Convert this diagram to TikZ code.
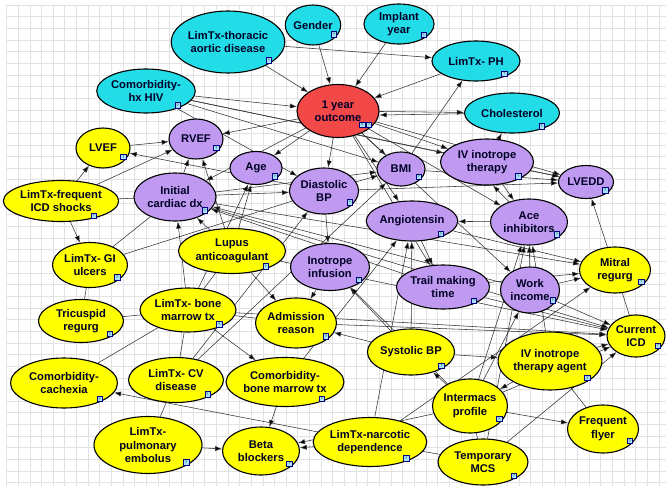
\documentclass[tikz,border=0pt]{standalone}
\usepackage{fontspec}
\setmainfont{Liberation Sans}
\usepackage{xcolor}
\usetikzlibrary{arrows.meta,shapes.geometric}

\definecolor{netcyan}{RGB}{34,220,232}
\definecolor{netred}{RGB}{242,72,72}
\definecolor{netpurple}{RGB}{192,154,240}
\definecolor{netyellow}{RGB}{255,255,0}
\definecolor{gridgray}{RGB}{226,226,226}

\begin{document}
\begin{tikzpicture}[
        x=1pt, y=-1pt,
        font=\fontsize{11.2}{13.5}\selectfont\bfseries,
        >={Latex[length=7pt,width=5pt]},
        % one look for all ellipses, only the fill changes
        bn_node/.style={ellipse, draw=black, line width=1.1pt, inner sep=0pt, align=center, text=black!85!blue},
        cyan_node/.style={bn_node, fill=netcyan},
        red_node/.style={bn_node, fill=netred},
        purple_node/.style={bn_node, fill=netpurple},
        yellow_node/.style={bn_node, fill=netyellow},
        q_icon/.style={draw=blue!50!black, fill=cyan!35, line width=0.4pt, minimum size=5.5pt, inner sep=0pt, font=\fontsize{3.5}{3.5}\selectfont},
        link_arrow/.style={->, draw=black!80, line width=0.55pt},
        link_plain/.style={draw=black!80, line width=0.55pt},
        grid_line/.style={draw=gridgray, line width=0.6pt}
    ]

    \pgfdeclarelayer{background}
    \pgfsetlayers{background,main}

    \useasboundingbox (0,0) rectangle (670,490);

    % --- grid paper ---
    \begin{pgfonlayer}{background}
        \fill[white] (0,0) rectangle (670,490);
        \foreach \gx in {0,...,56} \draw[grid_line] (6.5+\gx*11.65,5) -- (6.5+\gx*11.65,486);
        \foreach \gy in {0,...,41} \draw[grid_line] (6.5,5+\gy*11.65) -- (666,5+\gy*11.65);
    \end{pgfonlayer}

    % --- top row (cyan) ---
    \node[cyan_node, minimum width=102pt, minimum height=62pt] (thor) at (228,42) {LimTx-thoracic\\aortic disease};
    \node[cyan_node, minimum width=52pt, minimum height=40pt] (gender) at (313,25) {Gender};
    \node[cyan_node, minimum width=70pt, minimum height=40pt] (implant) at (399,24) {Implant\\year};
    \node[cyan_node, minimum width=88pt, minimum height=40pt] (ph) at (476,61) {LimTx- PH};
    \node[cyan_node, minimum width=96pt, minimum height=44pt] (hiv) at (146,91) {Comorbidity-\\hx HIV};
    \node[cyan_node, minimum width=95pt, minimum height=40pt] (chol) at (512,113) {Cholesterol};

    % --- target ---
    \node[red_node, minimum width=82pt, minimum height=53pt] (outcome) at (338,111) {1 year\\outcome};

    % --- purple ---
    \node[purple_node, minimum width=54pt, minimum height=40pt] (rvef) at (196,139) {RVEF};
    \node[purple_node, minimum width=52pt, minimum height=33pt] (age) at (256,168) {Age};
    \node[purple_node, minimum width=82pt, minimum height=48pt] (cardx) at (175,197) {Initial\\cardiac dx};
    \node[purple_node, minimum width=69pt, minimum height=46pt] (dbp) at (324,191) {Diastolic\\BP};
    \node[purple_node, minimum width=48pt, minimum height=34pt] (bmi) at (401,169) {BMI};
    \node[purple_node, minimum width=93pt, minimum height=46pt] (ivther) at (487,162) {IV inotrope\\therapy};
    \node[purple_node, minimum width=55pt, minimum height=33pt] (lvedd) at (586,182) {LVEDD};
    \node[purple_node, minimum width=91pt, minimum height=40pt] (angio) at (412,221) {Angiotensin};
    \node[purple_node, minimum width=77pt, minimum height=46pt] (ace) at (529,222) {Ace\\inhibitors};
    \node[purple_node, minimum width=79pt, minimum height=47pt] (infus) at (330,267) {Inotrope\\infusion};
    \node[purple_node, minimum width=93pt, minimum height=44pt] (trail) at (443,287) {Trail making\\time};
    \node[purple_node, minimum width=59pt, minimum height=46pt] (work) at (530,290) {Work\\income};

    % --- yellow ---
    \node[yellow_node, minimum width=54pt, minimum height=40pt] (lvef) at (103,148) {LVEF};
    \node[yellow_node, minimum width=115pt, minimum height=41pt] (icdshock) at (61,201) {LimTx-frequent\\ICD shocks};
    \node[yellow_node, minimum width=75pt, minimum height=45pt] (giulc) at (90,265) {LimTx- GI\\ulcers};
    \node[yellow_node, minimum width=107pt, minimum height=45pt] (lupus) at (232,251) {Lupus\\anticoagulant};
    \node[yellow_node, minimum width=71pt, minimum height=46pt] (mitral) at (615,270) {Mitral\\regurg};
    \node[yellow_node, minimum width=85pt, minimum height=43pt] (tricus) at (81,321) {Tricuspid\\regurg};
    \node[yellow_node, minimum width=96pt, minimum height=44pt] (bmtx) at (188,310) {LimTx- bone\\marrow tx};
    \node[yellow_node, minimum width=80pt, minimum height=50pt] (admit) at (296,323) {Admission\\reason};
    \node[yellow_node, minimum width=58pt, minimum height=42pt] (curicd) at (636,336) {Current\\ICD};
    \node[yellow_node, minimum width=72pt, minimum height=46pt] (sbp) at (411,352) {Systolic BP};
    \node[yellow_node, minimum width=97pt, minimum height=58pt] (ivagent) at (550,361) {IV inotrope\\therapy agent};
    \node[yellow_node, minimum width=107pt, minimum height=50pt] (cachex) at (64,383) {Comorbidity-\\cachexia};
    \node[yellow_node, minimum width=95pt, minimum height=45pt] (cvdis) at (176,380) {LimTx- CV\\disease};
    \node[yellow_node, minimum width=102pt, minimum height=49pt] (combm) at (285,382) {Comorbidity-\\bone marrow tx};
    \node[yellow_node, minimum width=75pt, minimum height=54pt] (intermacs) at (470,406) {Intermacs\\profile};
    \node[yellow_node, minimum width=71pt, minimum height=48pt] (flyer) at (603,429) {Frequent\\flyer};
    \node[yellow_node, minimum width=108pt, minimum height=57pt] (pulemb) at (148,445) {LimTx-\\pulmonary\\embolus};
    \node[yellow_node, minimum width=77pt, minimum height=48pt] (beta) at (261,451) {Beta\\blockers};
    \node[yellow_node, minimum width=106pt, minimum height=49pt] (narc) at (370,442) {LimTx-narcotic\\dependence};
    \node[yellow_node, minimum width=90pt, minimum height=46pt] (tmcs) at (483,462) {Temporary\\MCS};

    % --- little state icons ---
    \foreach \n in {thor,gender,implant,ph,hiv,chol,outcome,rvef,age,cardx,dbp,bmi,ivther,lvedd,angio,ace,infus,trail,work,
                    lvef,icdshock,giulc,lupus,mitral,tricus,bmtx,admit,curicd,sbp,ivagent,cachex,cvdis,combm,intermacs,flyer,pulemb,beta,narc,tmcs}
        \node[q_icon] (\n_q) at ([xshift=-3pt,yshift=2pt]\n.-25) {?};
    \node[q_icon] (outcome_x) at ([xshift=-6.5pt]outcome_q.center) {x};

    % --- links (behind the ellipses) ---
    \begin{pgfonlayer}{background}
        \draw[link_arrow] (thor) edge (outcome) edge (ph);
        \draw[link_arrow] (gender) edge (outcome);
        \draw[link_arrow] (implant) edge (outcome);
        \draw[link_arrow] (ph) edge (outcome);
        \draw[link_arrow] (hiv) edge (outcome) edge (dbp) edge (bmi) edge (ivther) edge (lvedd);
        \draw[link_arrow] (outcome) edge (rvef) edge (age) edge (dbp) edge (bmi) edge (angio) edge (ivther)
                                     edge (ace) edge (chol) edge (lvedd) edge (cardx) edge (trail) edge (work);
        \draw[link_arrow] (chol) edge ([yshift=-4pt]outcome.east);
        \draw[link_arrow] (ivther) edge (chol) edge (lvedd) edge (ace);
        \draw[link_arrow] (ace) edge (angio) edge ([xshift=6pt]ivther.south);
        \draw[link_arrow] (bmi) edge (ph) edge (lvedd);
        \draw[link_arrow] (angio) edge (trail) edge (mitral);
        \draw[link_arrow] (mitral) edge (lvedd);
        \draw[link_plain] (mitral) -- (curicd);
        \draw[link_arrow] (work) edge (ace) edge (cardx) edge (curicd) edge (mitral);
        \draw[link_arrow] (trail) edge (cardx) edge (mitral) edge (curicd);
        \draw[link_arrow] (lvef) edge (rvef);
        \draw[link_arrow] (dbp) edge (lvef) edge (infus) edge (bmi) edge (lvedd);
        \draw[link_arrow] (icdshock) edge (lvef) edge (rvef) edge (giulc) edge (dbp);
        \draw[link_arrow] (cardx) edge (rvef) edge (bmi) edge (mitral) edge (curicd);
        \draw[link_arrow] (lupus) edge (cardx) edge (age) edge (rvef) edge (admit) edge (curicd);
        \draw[link_arrow] (bmtx) edge (cardx) edge (age) edge (combm) edge (curicd);
        \draw[link_plain] (bmtx) -- (lupus);
        \draw[link_plain] (bmtx) -- (admit);
        \draw[link_plain] (giulc) -- (cardx);
        \draw[link_plain] (giulc) -- (dbp);
        \draw[link_plain] (tricus) -- (giulc);
        \draw[link_plain] (tricus) -- (bmtx);
        \draw[link_plain] (cachex) -- (bmtx);
        \draw[link_plain] (pulemb) -- (cvdis);
        \draw[link_plain] (cvdis) -- (bmtx);
        \draw[link_arrow] (cvdis) edge (dbp) edge (bmi);
        \draw[link_arrow] (pulemb) edge (beta);
        \draw[link_arrow] (infus) edge (admit);
        \draw[link_arrow] (combm) edge (beta) edge (angio);
        \draw[link_arrow] (admit) edge (curicd);
        \draw[link_arrow] (sbp) edge (ivagent) edge (admit) edge (angio) edge (infus);
        \draw[link_arrow] (intermacs) edge (sbp) edge (flyer) edge (curicd) edge (beta) edge (ace) edge (infus) edge (work);
        \draw[link_arrow] (ivagent) edge (intermacs) edge (curicd) edge (ace);
        \draw[link_plain] (ivagent) -- (flyer);
        \draw[link_arrow] (narc) edge (beta) edge (cachex) edge (angio) edge (mitral);
        \draw[link_arrow] (tmcs) edge (curicd) edge (ace);
        \draw[link_plain] (tmcs) -- (narc);
        \draw[link_plain] (tmcs) -- (intermacs);
    \end{pgfonlayer}

\end{tikzpicture}
\end{document}
